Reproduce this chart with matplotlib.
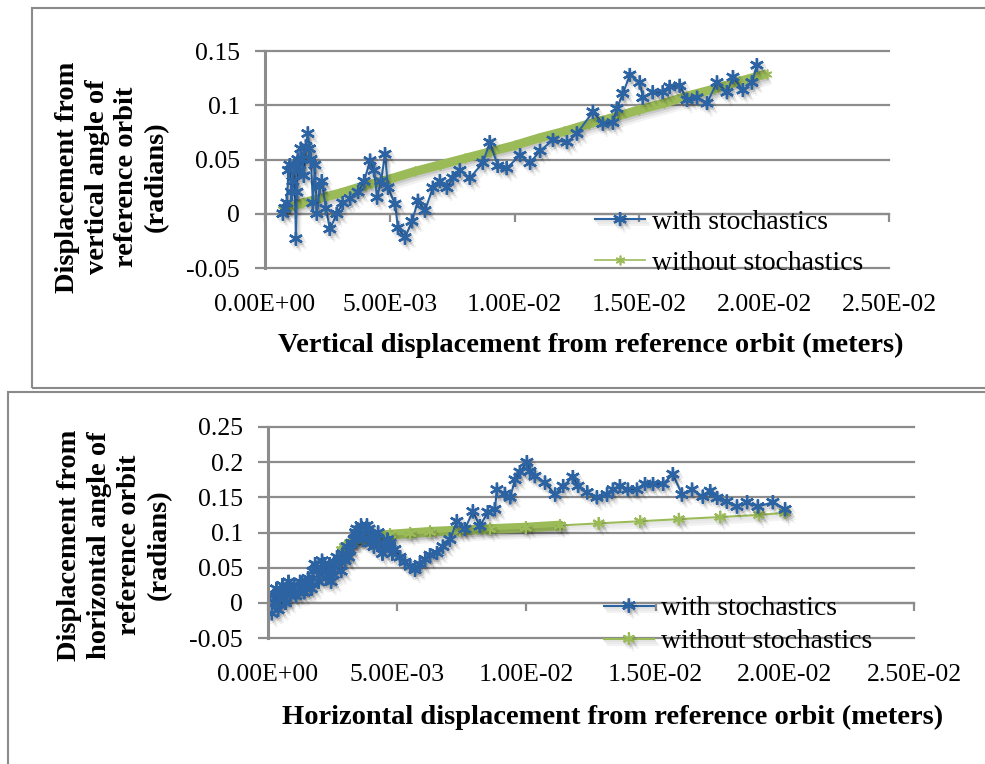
import numpy as np
import matplotlib.pyplot as plt
import matplotlib.patheffects as pe
from matplotlib.patches import Rectangle
from matplotlib.ticker import FuncFormatter

plt.rcParams['font.family'] = ['Liberation Serif', 'DejaVu Serif']

blue = '#2b63a3'
green = '#9bbb59'
grid_grey = '#8c8c8c'
frame_grey = '#8a8a8a'
star = (6, 2, 0)

x_ticks = [0, 0.005, 0.01, 0.015, 0.02, 0.025]
vert_y_ticks = [-0.05, 0, 0.05, 0.1, 0.15]
horiz_y_ticks = [-0.05, 0, 0.05, 0.1, 0.15, 0.2, 0.25]

labels = ['with stochastics', 'without stochastics']

#vertical plane, tracked particle with stochastic kicks
vert_with_x = [0.00072, 0.00080, 0.00088, 0.00094, 0.00100, 0.00106, 0.00112, 0.00118,
               0.00124, 0.00128, 0.00132, 0.00138, 0.00144, 0.00150, 0.00156,
               0.00164, 0.00172, 0.00178, 0.00184, 0.00192, 0.00200, 0.00208, 0.00220, 0.00228,
               0.00244, 0.00260, 0.00288, 0.00312, 0.00341, 0.00373, 0.00397, 0.00421,
               0.00437, 0.00449, 0.00465, 0.00481, 0.00493, 0.00521, 0.00533, 0.00561,
               0.00589, 0.00613, 0.00641, 0.00673, 0.00701, 0.00729, 0.00753, 0.00781,
               0.00821, 0.00873, 0.00901, 0.00933, 0.00969, 0.01022, 0.01062, 0.01102,
               0.01154, 0.01210, 0.01250, 0.01314, 0.01354, 0.01394, 0.01410, 0.01434,
               0.01462, 0.01502, 0.01514, 0.01554, 0.01594, 0.01622, 0.01662, 0.01691,
               0.01731, 0.01771, 0.01811, 0.01851, 0.01875, 0.01915, 0.01951, 0.01971]
vert_with_y = [0.000, 0.005, 0.010, 0.040, 0.045, 0.020, 0.030, 0.045,
               -0.023, 0.020, 0.050, 0.040, 0.060, 0.050, 0.035,
               0.062, 0.074, 0.060, 0.050, 0.010, 0.045, 0.000, 0.025, 0.030,
               0.005, -0.014, 0.000, 0.010, 0.014, 0.020, 0.030, 0.049,
               0.040, 0.015, 0.030, 0.055, 0.024, 0.009, -0.013, -0.022,
               -0.007, 0.012, 0.003, 0.024, 0.030, 0.024, 0.033, 0.040,
               0.033, 0.047, 0.066, 0.044, 0.042, 0.054, 0.047, 0.058,
               0.068, 0.066, 0.074, 0.094, 0.083, 0.084, 0.097, 0.111,
               0.128, 0.121, 0.107, 0.112, 0.112, 0.117, 0.118, 0.105,
               0.107, 0.102, 0.121, 0.112, 0.126, 0.114, 0.121, 0.137]

#vertical plane, reference tracking without kicks
vert_without_x = [0.0007, 0.0010, 0.0015, 0.0020, 0.0030, 0.0040, 0.0050, 0.0060,
                  0.0070, 0.0080, 0.0090, 0.0100, 0.0110, 0.0120, 0.0130, 0.0140,
                  0.0150, 0.0160, 0.0170, 0.0180, 0.0190, 0.0201]
vert_without_y = [0.004, 0.006, 0.010, 0.013, 0.019, 0.026, 0.032, 0.039,
                  0.045, 0.051, 0.057, 0.063, 0.070, 0.076, 0.083, 0.089,
                  0.096, 0.102, 0.109, 0.115, 0.122, 0.129]

#horizontal plane, tracked particle with stochastic kicks
horiz_with_x = [0.00015, 0.00021, 0.00027, 0.00033, 0.00039, 0.00045, 0.00050, 0.00056,
                0.00062, 0.00068, 0.00074, 0.00080, 0.00085, 0.00093, 0.00101, 0.00108,
                0.00116, 0.00124, 0.00132, 0.00140, 0.00147, 0.00155, 0.00163, 0.00168,
                0.00174, 0.00182, 0.00190, 0.00196, 0.00201, 0.00209, 0.00217, 0.00225,
                0.00232, 0.00238, 0.00244, 0.00252, 0.00259, 0.00267, 0.00275, 0.00283,
                0.00290, 0.00298, 0.00306, 0.00312, 0.00317, 0.00325, 0.00333, 0.00339,
                0.00344, 0.00352, 0.00360, 0.00368, 0.00375, 0.00383, 0.00391, 0.00397,
                0.00402, 0.00410, 0.00418, 0.00426, 0.00433, 0.00443, 0.00453, 0.00462,
                0.00472, 0.00481, 0.00491, 0.00511, 0.00530, 0.00550, 0.00569, 0.00588,
                0.00608, 0.00627, 0.00654, 0.00677, 0.00704, 0.00731, 0.00762, 0.00793,
                0.00820, 0.00851, 0.00878, 0.00886, 0.00917, 0.00937, 0.00956, 0.00975,
                0.01002, 0.01014, 0.01033, 0.01072, 0.01111, 0.01142, 0.01180, 0.01200,
                0.01235, 0.01273, 0.01312, 0.01335, 0.01362, 0.01393, 0.01428, 0.01459,
                0.01490, 0.01529, 0.01567, 0.01602, 0.01641, 0.01683, 0.01711, 0.01738,
                0.01776, 0.01815, 0.01854, 0.01896, 0.01954, 0.02001]
horiz_with_y = [-0.015, 0.010, 0.000, 0.020, -0.010, 0.005, 0.015, 0.025,
                0.005, 0.000, 0.020, 0.030, 0.010, 0.020, 0.025, 0.010,
                0.015, 0.030, 0.028, 0.015, 0.020, 0.035, 0.030, 0.020,
                0.045, 0.055, 0.050, 0.030, 0.040, 0.060, 0.055, 0.035,
                0.045, 0.055, 0.030, 0.040, 0.050, 0.065, 0.060, 0.045,
                0.070, 0.060, 0.080, 0.065, 0.075, 0.085, 0.090, 0.100,
                0.105, 0.095, 0.110, 0.090, 0.100, 0.110, 0.105, 0.085,
                0.095, 0.080, 0.090, 0.100, 0.085, 0.070, 0.080, 0.090,
                0.085, 0.070, 0.076, 0.065, 0.058, 0.052, 0.047, 0.055,
                0.062, 0.068, 0.071, 0.080, 0.090, 0.116, 0.105, 0.130,
                0.109, 0.129, 0.133, 0.161, 0.155, 0.150, 0.175, 0.186,
                0.200, 0.187, 0.180, 0.171, 0.154, 0.166, 0.179, 0.166,
                0.157, 0.150, 0.154, 0.161, 0.166, 0.161, 0.161, 0.169,
                0.169, 0.169, 0.183, 0.154, 0.161, 0.151, 0.159, 0.149,
                0.144, 0.137, 0.143, 0.137, 0.143, 0.133]

#horizontal plane, reference tracking without kicks
horiz_without_x = [0.00286, 0.00298, 0.00317, 0.00344, 0.00375, 0.00414, 0.00472, 0.00550,
                   0.00627, 0.00743, 0.00859, 0.00998, 0.0113, 0.0128, 0.0144, 0.0159,
                   0.0175, 0.0190, 0.0200]
horiz_without_y = [0.075, 0.080, 0.085, 0.089, 0.092, 0.095, 0.097, 0.099,
                   0.101, 0.103, 0.105, 0.107, 0.110, 0.113, 0.116, 0.119,
                   0.122, 0.125, 0.128]

#soft drop shadow built from a few faint offset copies
shadow = [pe.SimpleLineShadow(offset=(1, -1.5), shadow_color='k', alpha=0.10),
          pe.SimpleLineShadow(offset=(2, -3), shadow_color='k', alpha=0.08),
          pe.SimpleLineShadow(offset=(3, -4.5), shadow_color='k', alpha=0.05),
          pe.Normal()]


def style_axes(ax, y_ticks):
    ax.set_xlim(x_ticks[0], x_ticks[-1])
    ax.set_ylim(y_ticks[0], y_ticks[-1])
    ax.set_xticks(x_ticks)
    ax.set_yticks(y_ticks)
    ax.xaxis.set_major_formatter(FuncFormatter(lambda v, p: '%.2E' % v))
    ax.yaxis.set_major_formatter(FuncFormatter(lambda v, p: '%g' % v))
    for s in ['top', 'right', 'bottom']:
        ax.spines[s].set_visible(False)
    ax.spines['left'].set_color(grid_grey)
    ax.spines['left'].set_linewidth(2.2)
    ax.grid(axis='y', color=grid_grey, lw=1.6)
    for line in ax.get_ygridlines():
        line.set_clip_on(False)
    ax.set_axisbelow(True)
    ax.tick_params(axis='y', direction='out', length=7, width=1.6, color=grid_grey,
                   labelsize=18.5, pad=11)
    ax.tick_params(axis='x', length=0, labelsize=18.5, pad=19)
    #horizontal axis line crosses at zero
    sec = ax.secondary_xaxis(0, transform=ax.transData)
    sec.set_xticks(x_ticks)
    sec.tick_params(direction='out', length=6, width=1.6, color=grid_grey, labelbottom=False)
    sec.spines['bottom'].set_color(grid_grey)
    sec.spines['bottom'].set_linewidth(1.6)


def add_legend(ax, anchor, spacing):
    h, l = ax.get_legend_handles_labels()
    order = [l.index(labels[0]), l.index(labels[1])]
    ax.legend([h[i] for i in order], [l[i] for i in order], loc='upper left',
              bbox_to_anchor=anchor, frameon=False, borderpad=0, borderaxespad=0,
              handlelength=1.8, handletextpad=0.25, labelspacing=spacing, fontsize=20)


fig = plt.figure(figsize=(9.85, 7.64), dpi=100)

#panel frames
fig.add_artist(Rectangle((0.0325, 0.4921), 1.0, 0.4974, transform=fig.transFigure,
                         fill=False, ec=frame_grey, lw=1.5))
fig.add_artist(Rectangle((0.0081, -0.02), 1.0, 0.5069, transform=fig.transFigure,
                         fill=False, ec=frame_grey, lw=1.5))

#top: vertical plane
ax1 = fig.add_axes([0.2690, 0.6492, 0.6335, 0.2840])
style_axes(ax1, vert_y_ticks)
ax1.plot(vert_without_x, vert_without_y, color=green, lw=6.5, solid_capstyle='butt',
         path_effects=shadow)
ax1.plot(vert_without_x, vert_without_y, color=green, lw=1.2, marker=star, ms=7, mew=1.2,
         label=labels[1])
ax1.plot(vert_with_x, vert_with_y, color=blue, lw=1.5, marker=star, ms=10, mew=1.7,
         label=labels[0], path_effects=shadow)
add_legend(ax1, (0.529, 0.27), 0.55)
ax1.set_xlabel('Vertical displacement from reference orbit (meters)',
               fontsize=20.5, fontweight='bold')
ax1.xaxis.set_label_coords(0.522, -0.355)
ax1.xaxis.label.set_va('center')
ax1.set_ylabel('Displacement from\nvertical angle of\nreference orbit\n(radians)',
               fontsize=20.5, fontweight='bold', linespacing=1.25)
ax1.yaxis.set_label_coords(-0.245, 0.419)
ax1.yaxis.label.set_va('center')

#bottom: horizontal plane
ax2 = fig.add_axes([0.2721, 0.1649, 0.6558, 0.2762])
style_axes(ax2, horiz_y_ticks)
ax2.plot(horiz_without_x[:13], horiz_without_y[:13], color=green, lw=7,
         solid_capstyle='round', path_effects=shadow)
ax2.plot(horiz_without_x, horiz_without_y, color=green, lw=1.5, marker=star, ms=9, mew=1.5,
         label=labels[1], path_effects=shadow)
ax2.plot(horiz_with_x, horiz_with_y, color=blue, lw=1.5, marker=star, ms=10, mew=1.7,
         label=labels[0], path_effects=shadow)
add_legend(ax2, (0.520, 0.20), 0.28)
ax2.set_xlabel('Horizontal displacement from reference orbit (meters)',
               fontsize=20.5, fontweight='bold')
ax2.xaxis.set_label_coords(0.533, -0.374)
ax2.xaxis.label.set_va('center')
ax2.set_ylabel('Displacement from\nhorizontal angle of\nreference orbit\n(radians)',
               fontsize=20.5, fontweight='bold', linespacing=1.25)
ax2.yaxis.set_label_coords(-0.238, 0.441)
ax2.yaxis.label.set_va('center')

fig.savefig('out.png', dpi=100)
